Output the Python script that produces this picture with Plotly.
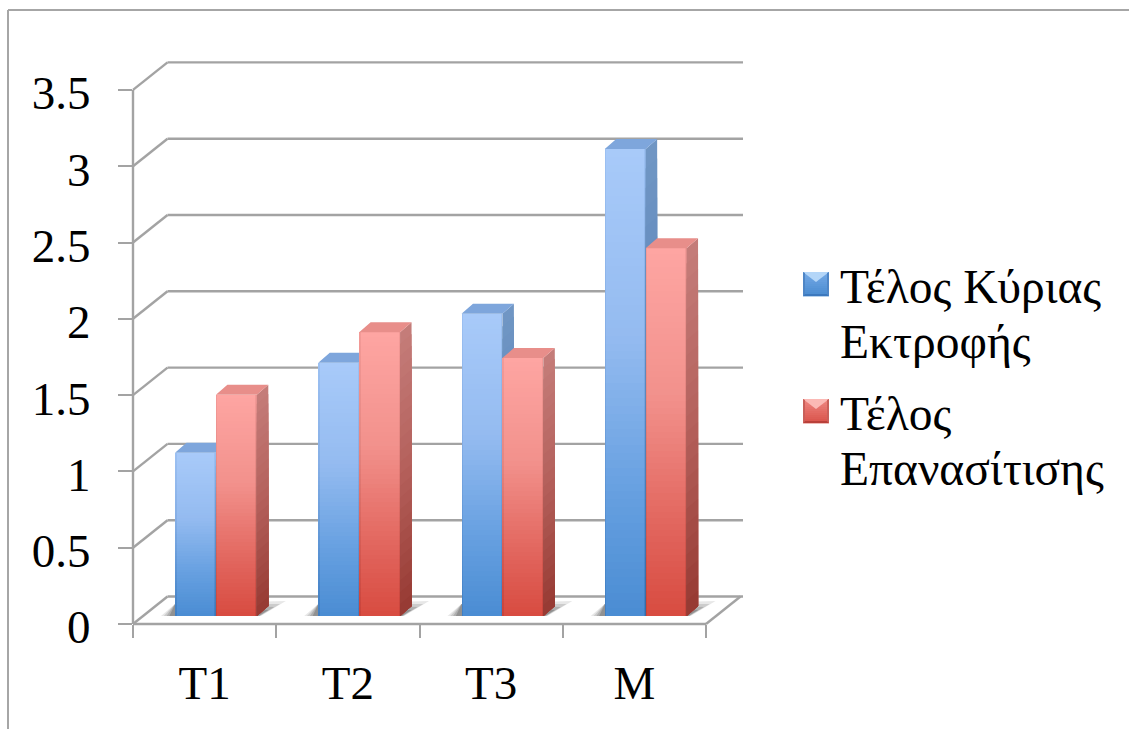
import plotly.graph_objects as go

categories = ["T1", "T2", "T3", "M"]
series_a_name = ["Τέλος Κύριας", "Εκτροφής"]
series_b_name = ["Τέλος", "Επανασίτισης"]
series_a = [1.07, 1.66, 1.98, 3.06]
series_b = [1.45, 1.86, 1.69, 2.41]
y_ticks = [0, 0.5, 1, 1.5, 2, 2.5, 3, 3.5]
y_labels = ["0", "0.5", "1", "1.5", "2", "2.5", "3", "3.5"]

FONT = "Liberation Serif"
GREY = "#a3a3a3"
L, R, T, B = 133, 743, 62, 624
PXX, PXY = 143.25, 152.6
XMAX, YMAX = (R - L) / PXX, (B - T) / PXY
DX, DY = 34.5 / PXX, 27.5 / PXY          # depth of the chart walls
BDX, BDY = 11.5 / PXX, 10 / PXY          # depth of a bar
BASE = 8 / PXY
BW = 40.9 / PXX
A_LEFT = 42 / PXX
N_FRONT, N_SIDE = 60, 24


def hex2rgb(h):
    return [int(h[i:i + 2], 16) for i in (1, 3, 5)]


def ramp(stops, t):
    for (t0, c0), (t1, c1) in zip(stops, stops[1:]):
        if t <= t1:
            f = (t - t0) / (t1 - t0)
            a, b = hex2rgb(c0), hex2rgb(c1)
            return "rgb(%d,%d,%d)" % tuple(round(a[i] + (b[i] - a[i]) * f) for i in range(3))
    return stops[-1][1]


A_FRONT = [(0, "#a8caf9"), (0.4, "#94bbf0"), (0.75, "#659fe0"), (1, "#4b8dd3")]
B_FRONT = [(0, "#fea5a2"), (0.4, "#f2918c"), (0.75, "#e2665e"), (1, "#d84c41")]
A_EDGE = [(0, "#9cc0f2"), (0.4, "#86afe6"), (0.75, "#5a93d4"), (1, "#3f7fc4")]
B_EDGE = [(0, "#f39a97"), (0.4, "#e58681"), (0.75, "#d55c54"), (1, "#c9433a")]
A_SIDE = [(0, "#7096c4"), (0.5, "#5d86bb"), (1, "#36689f")]
B_SIDE = [(0, "#c47c79"), (0.5, "#b4605b"), (1, "#973b34")]
A_TOP, B_TOP = "#7ea6dc", "#e88e8a"

fig = go.Figure()


def add_series(values, left, front, edge, side, top, xa, ya, name):
    lefts = [i + left for i in range(len(values))]
    centers = [x + BW / 2 for x in lefts]
    # side faces
    for k in range(N_SIDE):
        f = 1 - k / N_SIDE
        xs, ys = [], []
        for x, v in zip(lefts, values):
            r = x + BW
            h = BASE + v * f
            xs += [r, r + BDX, r + BDX, r, None]
            ys += [BASE, BASE + BDY, BDY + h, h, None]
        fig.add_trace(go.Scatter(x=xs, y=ys, mode="lines", line=dict(width=0), fill="toself",
                                 fillcolor=ramp(side, k / (N_SIDE - 1)), hoverinfo="skip",
                                 showlegend=False, xaxis=xa, yaxis=ya))
    # top faces
    xs, ys = [], []
    for x, v in zip(lefts, values):
        h = BASE + v
        xs += [x, x + BDX, x + BW + BDX, x + BW, None]
        ys += [h, h + BDY, h + BDY, h, None]
    fig.add_trace(go.Scatter(x=xs, y=ys, mode="lines", line=dict(width=0), fill="toself",
                             fillcolor=top, hoverinfo="skip", showlegend=False, xaxis=xa, yaxis=ya))
    # front faces, one band of the gradient at a time: a darker rim, then the inner face
    for ramp_stops, width in ((edge, BW), (front, BW - 3 / PXX)):
        for k in range(N_FRONT):
            fig.add_trace(go.Bar(
                x=centers, y=[v / N_FRONT for v in values],
                base=[BASE + v * (1 - (k + 1) / N_FRONT) for v in values],
                width=width, marker=dict(color=ramp(ramp_stops, k / (N_FRONT - 1)), line=dict(width=0)),
                name=name, hoverinfo="skip", showlegend=False, xaxis=xa, yaxis=ya))


add_series(series_a, A_LEFT, A_FRONT, A_EDGE, A_SIDE, A_TOP, "x", "y", " ".join(series_a_name))
add_series(series_b, A_LEFT + BW, B_FRONT, B_EDGE, B_SIDE, B_TOP, "x2", "y2", " ".join(series_b_name))


def px(x):
    return x / XMAX


def py(y):
    return y / YMAX


shapes = []


def line(x0, y0, x1, y1, color=GREY, w=2.4):
    shapes.append(dict(type="line", xref="paper", yref="paper", x0=px(x0), y0=py(y0), x1=px(x1), y1=py(y1),
                       line=dict(color=color, width=w), layer="below"))


for t in y_ticks:
    line(0, t, DX, t + DY)
    line(DX, t + DY, XMAX, t + DY)
line(0, 0, 0, y_ticks[-1])
n = len(categories)
line(0, 0, n, 0)
line(n, 0, n + DX, DY)

# floor shadows
for i in range(n):
    xl = i + A_LEFT
    xr = xl + 2 * BW
    for grow, alpha in ((1.0, 0.12), (0.8, 0.16), (0.6, 0.2), (0.4, 0.26)):
        path = "M %f,%f L %f,%f L %f,%f L %f,%f Z" % (
            xl - grow * 14 / PXX, BASE, xl, BASE + 12 / PXY,
            xr + grow * 29 / PXX, BASE + grow * 15 / PXY, xr + grow * 4 / PXX, BASE)
        shapes.append(dict(type="path", xref="x", yref="y", path=path, layer="below",
                           fillcolor="rgba(60,60,60,%g)" % alpha, line=dict(width=0)))


def pagex(v):
    return (v - L) / (R - L)


def pagey(v):
    return (B - v) / (B - T)


# chart frame
for a, b, c, d in ((8, 10, 1140, 10), (8, 10, 8, 740)):
    shapes.append(dict(type="line", xref="paper", yref="paper", x0=pagex(a), y0=pagey(b),
                       x1=pagex(c), y1=pagey(d), line=dict(color="#a6a6a6", width=2), layer="below"))


def swatch(y0, light, mid, edge, top, bottom):
    x0 = 803
    size_x, size_y = 26, 24
    steps = 12
    for k in range(steps):
        a = y0 + size_y * k / steps
        b = y0 + size_y * (k + 1) / steps
        shapes.append(dict(type="rect", xref="paper", yref="paper", x0=pagex(x0), x1=pagex(x0 + size_x),
                           y0=pagey(a), y1=pagey(b + 0.4), line=dict(width=0), layer="above",
                           fillcolor=ramp([(0, light), (1, mid)], k / (steps - 1))))
    for pts, col in (([(0, 0), (size_x, 0), (size_x / 2, 10), ], top),
                     ([(0, size_y), (size_x, size_y), (size_x - 2, size_y - 2), (2, size_y - 2)], bottom),
                     ([(0, 0), (2, 1), (2, size_y - 2), (0, size_y)], edge),
                     ([(size_x, 0), (size_x - 2, 1), (size_x - 2, size_y - 2), (size_x, size_y)], edge)):
        path = "M " + " L ".join("%f,%f" % (pagex(x0 + p[0]), pagey(y0 + p[1])) for p in pts) + " Z"
        shapes.append(dict(type="path", xref="paper", yref="paper", path=path, fillcolor=col,
                           line=dict(width=0), layer="above"))


swatch(272, "#74a9e6", "#4a8bd0", edge="#4f86c6", top="#b4d6f8", bottom="#3c78bd")
swatch(399, "#ee8580", "#d9544b", edge="#c9605a", top="#fbb9b5", bottom="#b9403a")

annotations = []
for text, y in ((series_a_name[0], 287), (series_a_name[1], 342), (series_b_name[0], 414), (series_b_name[1], 469)):
    annotations.append(dict(xref="paper", yref="paper", x=pagex(838), y=pagey(y), text=text,
                            showarrow=False, xanchor="left", yanchor="middle",
                            font=dict(family=FONT, size=47.5, color="#000000")))

fig.update_layout(
    width=1129, height=729,
    margin=dict(l=L, r=1129 - R, t=T, b=729 - B, autoexpand=False),
    paper_bgcolor="white", plot_bgcolor="rgba(0,0,0,0)",
    barmode="overlay", bargap=0, showlegend=False,
    shapes=shapes, annotations=annotations,
    xaxis=dict(range=[0, XMAX], tickvals=list(range(n + 1)), ticktext=[""] * (n + 1), ticks="outside", ticklen=13,
               tickwidth=2, tickcolor=GREY, showgrid=False, zeroline=False, showline=False, fixedrange=True),
    yaxis=dict(range=[0, YMAX], tickvals=y_ticks, ticktext=y_labels, ticks="outside", ticklen=14, tickwidth=2,
               tickcolor=GREY, showgrid=False, zeroline=False, showline=False, ticklabelstandoff=18,
               ticklabelshift=3,
               tickfont=dict(family=FONT, size=47, color="#000000"), fixedrange=True),
    xaxis2=dict(range=[0, XMAX], overlaying="x", anchor="y", side="bottom",
                tickvals=[i + 0.5 for i in range(n)], ticktext=categories, ticks="", showgrid=False,
                zeroline=False, showline=False, ticklabelstandoff=27,
                tickfont=dict(family=FONT, size=47, color="#000000"), fixedrange=True),
    yaxis2=dict(range=[0, YMAX], overlaying="y", anchor="x", visible=False, fixedrange=True),
)

fig.write_html("out.html", config={"displayModeBar": False}, post_script="document.body.style.margin='0';")
